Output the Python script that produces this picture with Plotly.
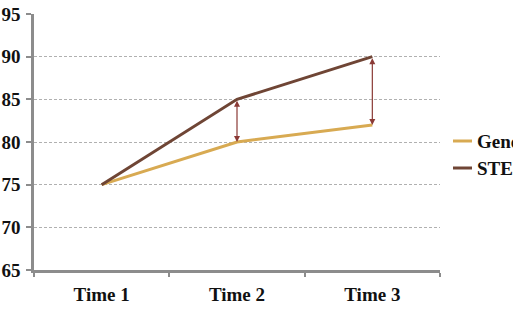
import plotly.graph_objects as go

categories = ["Time 1", "Time 2", "Time 3"]
general = [75, 80, 82]
stem = [75, 85, 90]
series_names = ["General", "STEM"]
y_ticks = [65, 70, 75, 80, 85, 90, 95]

c_gen = "#D8AA52"
c_stem = "#6F4535"
c_arrow = "#8B3A36"
font_fam = "Liberation Serif, Times New Roman, serif"

fig = go.Figure()
fig.add_trace(go.Scatter(x=categories, y=general, mode="lines", name=series_names[0],
                         line=dict(color=c_gen, width=3), showlegend=False))
fig.add_trace(go.Scatter(x=categories, y=stem, mode="lines", name=series_names[1],
                         line=dict(color=c_stem, width=3), showlegend=False))

# double-headed arrows between series at Time 2 and Time 3
for i in (1, 2):
    fig.add_annotation(x=i, y=general[i], ax=i, ay=stem[i], xref="x", yref="y",
                       axref="x", ayref="y", text="", showarrow=True,
                       arrowhead=2, startarrowhead=2, arrowside="end+start",
                       arrowsize=1, arrowwidth=1.2, arrowcolor=c_arrow)

L, R, T, B = 34, 73, 14, 54
W, H = 513, 324
pw, ph = W - L - R, H - T - B

def px2paper(px, py):
    return (px - L) / pw, (H - B - py) / ph

# manual legend
for name, col, py in [(series_names[0], c_gen, 141), (series_names[1], c_stem, 168)]:
    x0, y0 = px2paper(453, py)
    x1, _ = px2paper(472, py)
    fig.add_shape(type="line", xref="paper", yref="paper", x0=x0, x1=x1, y0=y0, y1=y0,
                  line=dict(color=col, width=3))
    tx, _ = px2paper(475, py)
    fig.add_annotation(xref="paper", yref="paper", x=tx, y=y0, text="<b>%s</b>" % name,
                       showarrow=False, xanchor="left", yanchor="middle",
                       font=dict(family=font_fam, size=19, color="#111111"))

fig.update_layout(
    width=W, height=H, margin=dict(l=L, r=R, t=T, b=B, autoexpand=False),
    paper_bgcolor="white", plot_bgcolor="white",
    font=dict(family=font_fam, size=19, color="#111111"),
    showlegend=False,
)
fig.update_xaxes(type="category", range=[-0.5, 2.5], tickson="boundaries",
                 ticks="outside", ticklen=4, tickcolor="#8c8c8c", tickwidth=2,
                 showline=True, linecolor="#8c8c8c", linewidth=2.5, showgrid=False,
                 tickvals=categories, ticktext=["<b>%s</b>" % c for c in categories],
                 ticklabelstandoff=5, automargin=False, tickfont=dict(size=19))
fig.update_yaxes(range=[65, 95], tickvals=y_ticks,
                 ticktext=["<b>%d</b>" % v for v in y_ticks],
                 ticks="outside", ticklen=5, tickcolor="#8c8c8c", tickwidth=2,
                 showline=True, linecolor="#8c8c8c", linewidth=2.5,
                 showgrid=True, gridcolor="#b0b0b0", griddash="3px,2px", gridwidth=1,
                 zeroline=False, ticklabelstandoff=2, automargin=False,
                 tickfont=dict(size=19))

fig.write_html("out.html")
